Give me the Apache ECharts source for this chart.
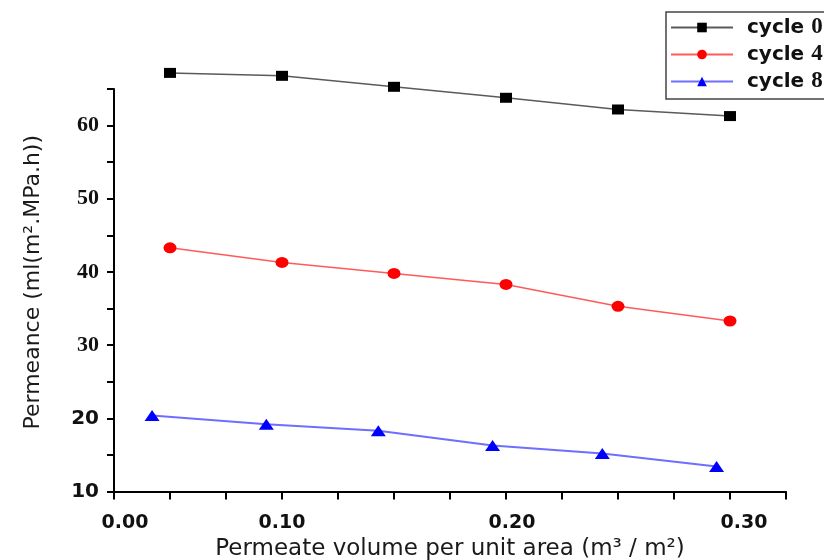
<!DOCTYPE html>
<html>
<head>
<meta charset="utf-8">
<title>Permeance vs permeate volume</title>
<script src="https://cdn.jsdelivr.net/npm/echarts@6/dist/echarts.min.js"></script>
<style>
  html, body { margin: 0; padding: 0; background: #fff; }
  #chart { width: 824px; height: 560px; }
</style>
</head>
<body>
<div id="chart"></div>
<script>
// Permeate volume per unit area (m3/m2) for each cycle
const volCycle0 = [0.05, 0.10, 0.15, 0.20, 0.25, 0.30];
const volCycle4 = [0.05, 0.10, 0.15, 0.20, 0.25, 0.30];
const volCycle8 = [0.042, 0.093, 0.143, 0.194, 0.243, 0.294];

// Permeance, ml/(m2.MPa.h)
const permCycle0 = [67.2, 66.8, 65.3, 63.8, 62.2, 61.3];
const permCycle4 = [43.3, 41.3, 39.8, 38.3, 35.3, 33.3];
const permCycle8 = [20.4, 19.2, 18.3, 16.3, 15.2, 13.4];

const seriesNames = ['cycle 0', 'cycle 4', 'cycle 8'];

// x tick labels: value (in thousandths) -> label text
const xTickLabels = { 25: '0.00', 100: '0.10', 200: '0.20', 300: '0.30' };
// small horizontal nudges of the x tick labels (rich style per label)
const xLabelStyleKey = { 25: 'l0', 100: 'l1', 200: 'l2', 300: 'l3' };
const yTickLabels = [10, 20, 30, 40, 50, 60];

const pairs = (xs, ys) => xs.map((x, i) => [x, ys[i]]);

const chart = echarts.init(document.getElementById('chart'), null, { renderer: 'canvas' });

const sansBold = { fontFamily: 'DejaVu Sans', fontWeight: 'bold', color: '#111' };
const serifBold = { fontFamily: 'Liberation Serif', fontWeight: 'bold', color: '#111' };
const xLab = pad => Object.assign({ fontSize: 19, padding: [0, 0, 0, pad] }, sansBold);

chart.setOption({
  backgroundColor: '#ffffff',
  animation: false,
  grid: {
    left: 114, top: 89, width: 672, height: 402.5,
    containLabel: false,
    outerBoundsMode: 'none'
  },
  legend: {
    data: seriesNames,
    orient: 'vertical',
    left: 666,
    top: 12,
    itemWidth: 62,
    itemHeight: 12,
    itemGap: 4,
    padding: [4, 40, 6, 4],
    borderColor: '#444',
    borderWidth: 1.5,
    formatter: name => {
      const parts = name.split(' ');
      return '{a|' + parts[0] + ' }{b|' + parts[1] + '}';
    },
    textStyle: {
      rich: {
        a: Object.assign({ fontSize: 20, padding: [0, 0, 0, 9] }, sansBold),
        b: Object.assign({ fontSize: 23 }, serifBold)
      }
    }
  },
  xAxis: {
    type: 'value',
    min: 0.025,
    max: 0.325,
    interval: 0.025,
    name: 'Permeate volume per unit area (m³ / m²)',
    nameLocation: 'middle',
    nameGap: 46,
    nameTextStyle: { fontFamily: 'DejaVu Sans', fontSize: 23, color: '#1a1a1a' },
    axisLine: { show: true, onZero: false, lineStyle: { color: '#000', width: 2 } },
    axisTick: { show: true, inside: false, length: 8, lineStyle: { color: '#000', width: 2 } },
    splitLine: { show: false },
    axisLabel: {
      margin: 22,
      showMinLabel: true,
      showMaxLabel: true,
      hideOverlap: false,
      formatter: v => {
        const k = Math.round(v * 1000);
        return xTickLabels[k] ? '{' + xLabelStyleKey[k] + '|' + xTickLabels[k] + '}' : '';
      },
      rich: { l0: xLab(22), l1: xLab(0), l2: xLab(12), l3: xLab(28) }
    }
  },
  yAxis: {
    type: 'value',
    min: 10,
    max: 65,
    interval: 5,
    name: 'Permeance (ml(m².MPa.h))',
    nameLocation: 'middle',
    nameRotate: 90,
    nameGap: 70,
    nameTextStyle: { fontFamily: 'DejaVu Sans', fontSize: 22, color: '#1a1a1a', padding: [0, 0, 0, 16] },
    axisLine: { show: true, onZero: false, lineStyle: { color: '#000', width: 2 } },
    axisTick: { show: true, inside: false, length: 7, lineStyle: { color: '#000', width: 2 } },
    splitLine: { show: false },
    axisLabel: {
      margin: 15,
      formatter: v => {
        const r = Math.round(v);
        if (!yTickLabels.includes(r)) return '';
        return r <= 20 ? '{s|' + r + '}' : '{t|' + r + '}';
      },
      rich: {
        s: Object.assign({ fontSize: 20 }, sansBold),
        t: Object.assign({ fontSize: 22 }, serifBold)
      }
    }
  },
  series: [
    {
      name: seriesNames[0],
      type: 'line',
      clip: false,
      data: pairs(volCycle0, permCycle0),
      symbol: 'rect',
      symbolSize: [12, 10],
      itemStyle: { color: '#000' },
      lineStyle: { color: '#5a5a5a', width: 1.5 }
    },
    {
      name: seriesNames[1],
      type: 'line',
      clip: false,
      data: pairs(volCycle4, permCycle4),
      symbol: 'circle',
      symbolSize: [13, 11],
      itemStyle: { color: '#ff0000' },
      lineStyle: { color: '#ff5a5a', width: 1.5 }
    },
    {
      name: seriesNames[2],
      type: 'line',
      clip: false,
      data: pairs(volCycle8, permCycle8),
      symbol: 'triangle',
      symbolSize: [15, 11],
      itemStyle: { color: '#0000ff' },
      lineStyle: { color: '#6e6eff', width: 2 }
    }
  ]
});
</script>
</body>
</html>
